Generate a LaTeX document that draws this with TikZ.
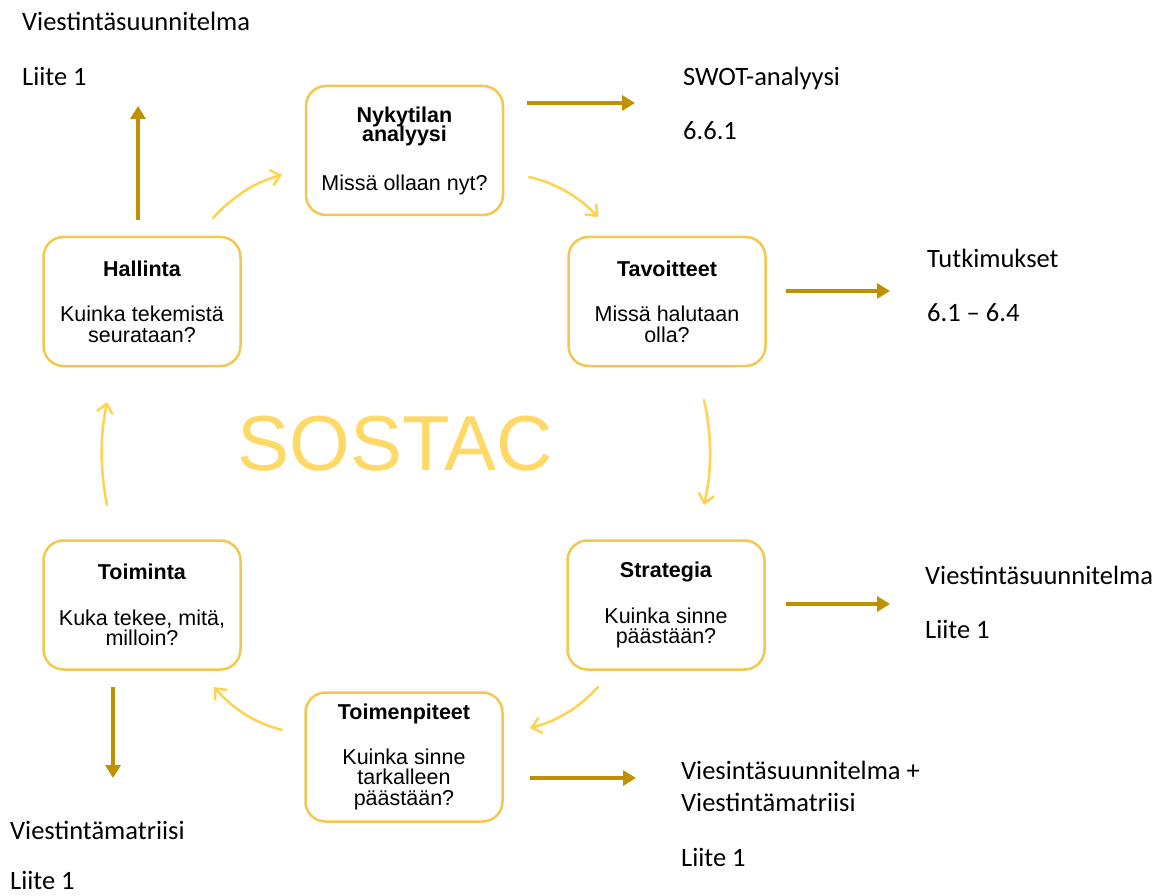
\documentclass[tikz,border=0pt]{standalone}
\usepackage{fontspec}
\setmainfont{Liberation Sans}
\newfontfamily\labfont{Carlito}
\usetikzlibrary{arrows.meta}
\definecolor{boxgold}{RGB}{242,200,80}
\definecolor{lightarr}{RGB}{255,210,80}
\definecolor{darkarr}{RGB}{191,144,0}
\definecolor{sostac}{RGB}{255,217,102}
\begin{document}
\begin{tikzpicture}[x=1pt,y=-1pt,
  stage/.style={draw=boxgold, line width=2.5pt, rounded corners=20pt,
    minimum width=197pt, minimum height=129pt, align=center, inner sep=0pt,
    fill=white, font=\fontsize{21.5}{20.5}\selectfont},
  cyc/.style={draw=lightarr, line width=2.5pt, line cap=round,
    -{Straight Barb[length=9pt,width=16pt]}},
  outarr/.style={draw=darkarr, line width=4pt, -{Triangle[length=13pt,width=15pt]}},
  lab/.style={anchor=base west, inner sep=0pt, font=\labfont\fontsize{26.5}{30}\selectfont}]
\useasboundingbox[fill=white] (0,0) rectangle (1168,896);

% stage boxes
\node[stage] (nyk) at (404.5,150.5) {\textbf{Nykytilan}\\[-1pt]\textbf{analyysi}\\[28pt]Missä ollaan nyt?};
\node[stage] (tav) at (667,301.5) {\textbf{Tavoitteet}\\[25pt]Missä halutaan\\olla?};
\node[stage] (str) at (666,605) {\textbf{Strategia}\\[25pt]Kuinka sinne\\päästään?};
\node[stage] (tpt) at (404,757) {\textbf{Toimenpiteet}\\[24pt]Kuinka sinne\\tarkalleen\\päästään?};
\node[stage] (tmi) at (142,605) {\textbf{Toiminta}\\[25pt]Kuka tekee, mitä,\\milloin?};
\node[stage] (hal) at (142,301.5) {\textbf{Hallinta}\\[25pt]Kuinka tekemistä\\seurataan?};

% centre title
\node[anchor=base, inner sep=0pt, text=sostac, font=\fontsize{78}{80}\selectfont] (sostac) at (395,470) {SOSTAC};

% cycle arrow ends
\coordinate (c1a) at (213,218); \coordinate (c1b) at (282,175);
\coordinate (c2a) at (529,177); \coordinate (c2b) at (598,217);
\coordinate (c3a) at (704,400); \coordinate (c3b) at (704,505);
\coordinate (c4a) at (598,687); \coordinate (c4b) at (530,728);
\coordinate (c5a) at (282,730); \coordinate (c5b) at (214,687);
\coordinate (c6a) at (107,505); \coordinate (c6b) at (107,402);

\draw[cyc] (c1a) .. controls (232,197) and (255,182) .. (c1b);
\draw[cyc] (c2a) .. controls (556,183) and (579,197) .. (c2b);
\draw[cyc] (c3a) .. controls (712,435) and (712,470) .. (c3b);
\draw[cyc] (c4a) .. controls (579,708) and (557,721) .. (c4b);
\draw[cyc] (c5a) .. controls (255,723) and (233,709) .. (c5b);
\draw[cyc] (c6a) .. controls (100,470) and (100,437) .. (c6b);

% labels
\node[lab] (vs1) at (22,30.5) {Viestintäsuunnitelma};
\node[lab] (li1) at (22,85.5) {Liite 1};
\node[lab] (swot) at (683,85.5) {SWOT-analyysi};
\node[lab] (n661) at (683,139.5) {6.6.1};
\node[lab] (tutk) at (927,267.5) {Tutkimukset};
\node[lab] (n61) at (927,321.5) {6.1 – 6.4};
\node[lab] (vs2) at (925,584.5) {Viestintäsuunnitelma};
\node[lab] (li2) at (925,638.5) {Liite 1};
\node[lab] (vs3) at (681,779.5) {Viesintäsuunnitelma +};
\node[lab] (vm3) at (681,811.5) {Viestintämatriisi};
\node[lab] (li3) at (681,866.5) {Liite 1};
\node[lab] (vm4) at (10,839.5) {Viestintämatriisi};
\node[lab] (li4) at (10,889) {Liite 1};

% dark output arrows
\coordinate (o1a) at (138,220); \coordinate (o1b) at (138,106);
\coordinate (o2a) at (527,103); \coordinate (o2b) at (635,103);
\coordinate (o3a) at (786,291); \coordinate (o3b) at (890,291);
\coordinate (o4a) at (786,604); \coordinate (o4b) at (890,604);
\coordinate (o5a) at (530,778); \coordinate (o5b) at (636,778);
\coordinate (o6a) at (113,687); \coordinate (o6b) at (113,778);
\draw[outarr] (o1a) -- (o1b);
\draw[outarr] (o2a) -- (o2b);
\draw[outarr] (o3a) -- (o3b);
\draw[outarr] (o4a) -- (o4b);
\draw[outarr] (o5a) -- (o5b);
\draw[outarr] (o6a) -- (o6b);
\end{tikzpicture}
\end{document}
